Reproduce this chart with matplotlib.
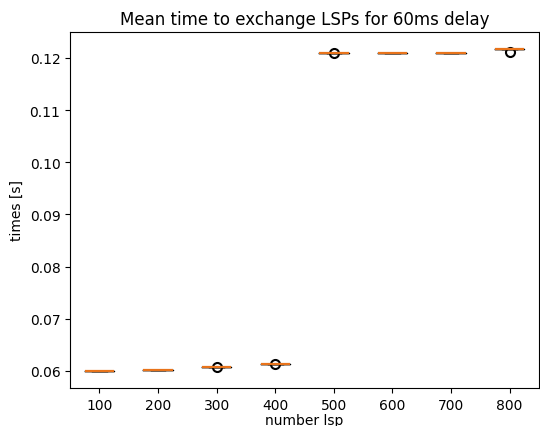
import matplotlib
matplotlib.use("Agg")
import matplotlib.pyplot as plt

categories = ["100", "200", "300", "400", "500", "600", "700", "800"]
samples_100 = [0.06000, 0.06001, 0.06002, 0.06001, 0.06000, 0.06002]
samples_200 = [0.06012, 0.06013, 0.06014, 0.06013, 0.06012, 0.06014]
samples_300 = [0.06072, 0.06073, 0.06074, 0.06073, 0.06072, 0.06074, 0.06077]
samples_400 = [0.06138, 0.06139, 0.06140, 0.06139, 0.06138, 0.06140, 0.06143]
samples_500 = [0.12090, 0.12091, 0.12092, 0.12091, 0.12090, 0.12092, 0.12087]
samples_600 = [0.12090, 0.12091, 0.12092, 0.12091, 0.12090, 0.12092]
samples_700 = [0.12090, 0.12091, 0.12092, 0.12091, 0.12090, 0.12092]
samples_800 = [0.12168, 0.12169, 0.12170, 0.12169, 0.12168, 0.12170, 0.12110]

data = [samples_100, samples_200, samples_300, samples_400,
        samples_500, samples_600, samples_700, samples_800]

fig = plt.figure(figsize=(5.4, 4.27), dpi=100)
ax = fig.add_axes([0.13, 0.089, 0.868, 0.834])
ax.boxplot(data, tick_labels=categories,
           medianprops=dict(color="#e8731a", linewidth=1.6),
           boxprops=dict(linewidth=1.0),
           flierprops=dict(markeredgewidth=1.5, markersize=6.5))
ax.set_ylim(0.05674, 0.12498)
ax.set_title("Mean time to exchange LSPs for 60ms delay")
ax.set_xlabel("number lsp", labelpad=1)
ax.set_ylabel("times [s]")
fig.savefig("out.png", dpi=100)
